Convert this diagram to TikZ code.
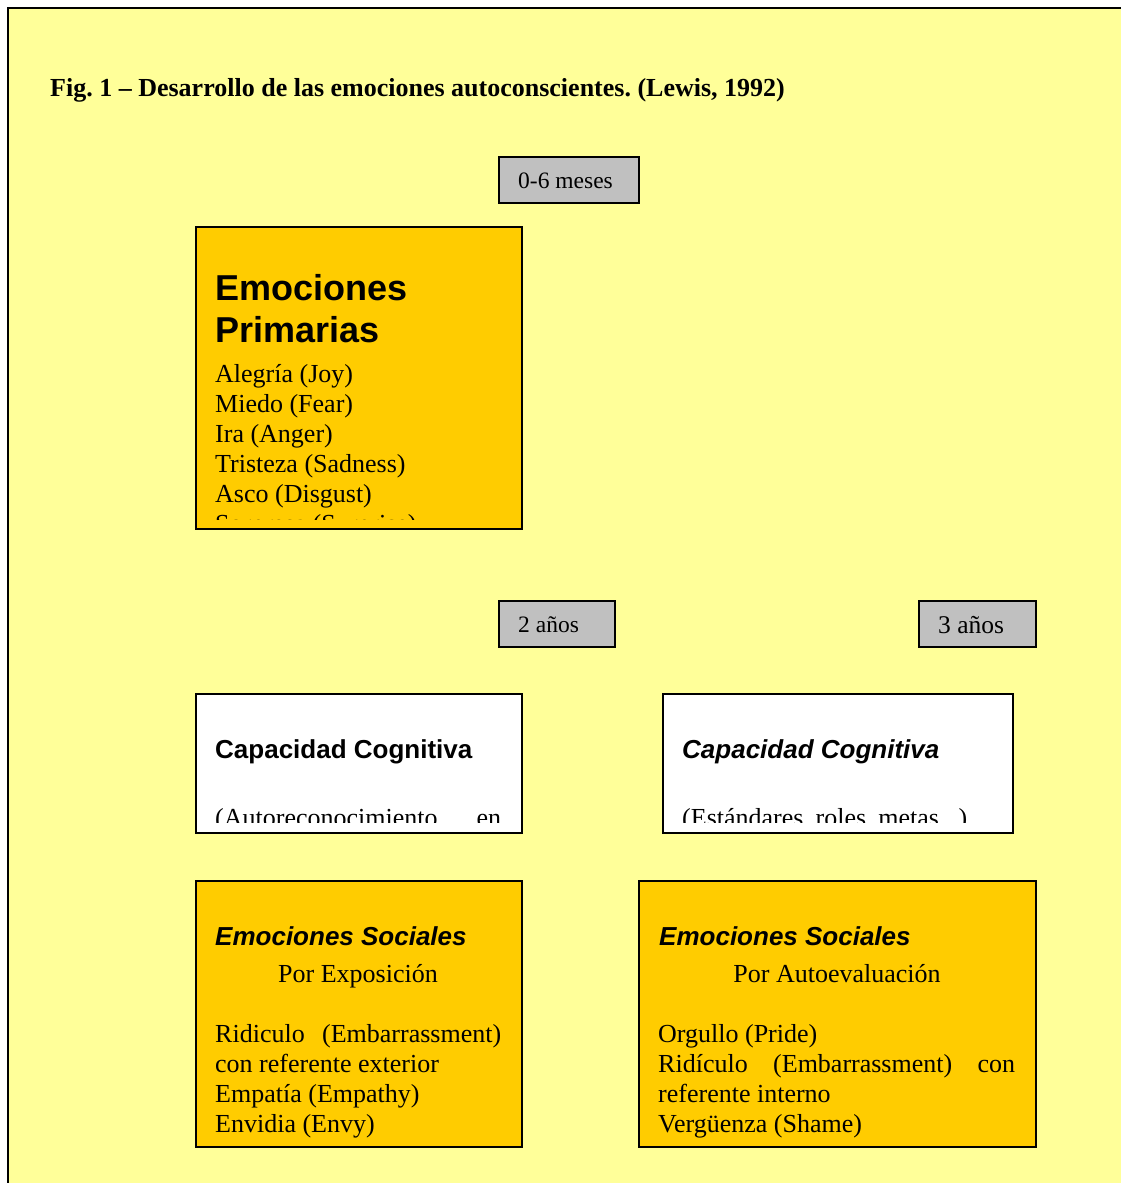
\documentclass[tikz,border=0pt]{standalone}
\usepackage{fontspec}
\setmainfont{Liberation Serif}
\newfontfamily\arialf{Liberation Sans}
\definecolor{bgyellow}{HTML}{FFFF99}
\definecolor{boxorange}{HTML}{FFCC00}
\definecolor{labelgray}{HTML}{C0C0C0}
\frenchspacing
\begin{document}
\begin{tikzpicture}[x=1pt,y=-1pt,
  boxstyle/.style={draw=black,line width=2pt,anchor=north west,inner sep=0pt},
  txt/.style={anchor=base west,inner sep=0pt,font=\fontsize{26}{30}\selectfont},
  head/.style={anchor=base west,inner sep=0pt,font=\arialf\bfseries\fontsize{26}{30}\selectfont},
  lbl/.style={anchor=base west,inner sep=0pt}]
\useasboundingbox (0,0) rectangle (1121,1183);
\clip (0,0) rectangle (1121,1183);
\fill[white] (0,0) rectangle (1121,1183);
\draw[fill=bgyellow,line width=2pt] (8,8) rectangle (1140,1200);

% title
\node[anchor=base west,inner sep=0pt,font=\bfseries\fontsize{26}{30}\selectfont] (title) at (50,96) {Fig. 1 – Desarrollo de las emociones autoconscientes. (Lewis, 1992)};

% age labels
\node[boxstyle,fill=labelgray,minimum width=140pt,minimum height=46pt] (age1) at (498,156) {};
\node[lbl,font=\fontsize{23.5}{27}\selectfont] (age1t) at (518,188) {0-6 meses};
\node[boxstyle,fill=labelgray,minimum width=116pt,minimum height=46pt] (age2) at (498,600) {};
\node[lbl,font=\fontsize{23.5}{27}\selectfont] (age2t) at (518,632) {2 años};
\node[boxstyle,fill=labelgray,minimum width=117pt,minimum height=46pt] (age3) at (918,600) {};
\node[lbl,font=\fontsize{25.5}{29}\selectfont] (age3t) at (938,633) {3 años};

% primary emotions
\node[boxstyle,fill=boxorange,minimum width=326pt,minimum height=302pt] (prim) at (195,226) {};
\begin{scope}
\clip (197,228) rectangle (519,519);
\node[head,font=\arialf\bfseries\fontsize{36}{42}\selectfont] (primh1) at (215,300) {Emociones};
\node[head,font=\arialf\bfseries\fontsize{36}{42}\selectfont] (primh2) at (215,342) {Primarias};
\node[txt] (p1) at (215,382) {Alegría (Joy)};
\node[txt] (p2) at (215,412) {Miedo (Fear)};
\node[txt] (p3) at (215,442) {Ira (Anger)};
\node[txt] (p4) at (215,472) {Tristeza (Sadness)};
\node[txt] (p5) at (215,502) {Asco (Disgust)};
\node[txt] (p6) at (215,532) {Sorpresa (Surprise)};
\end{scope}

% cognitive capacity
\node[boxstyle,fill=white,minimum width=326pt,minimum height=139pt] (cogL) at (195,693) {};
\begin{scope}
\clip (197,695) rectangle (519,822);
\node[head] (cogLh) at (215,758) {Capacidad Cognitiva};
\node[txt] (cogLt) at (215,826) {\hbox to 286pt{(Autoreconocimiento\hfill en}};
\end{scope}
\node[boxstyle,fill=white,minimum width=350pt,minimum height=139pt] (cogR) at (662,693) {};
\begin{scope}
\clip (664,695) rectangle (1010,822);
\node[head,font=\arialf\bfseries\itshape\fontsize{26}{30}\selectfont] (cogRh) at (682,758) {Capacidad Cognitiva};
\node[txt] (cogRt) at (682,826) {\hbox to 285pt{(Estándares,\hfill roles,\hfill metas...)}};
\end{scope}

% social emotions left
\node[boxstyle,fill=boxorange,minimum width=326pt,minimum height=266pt] (socL) at (195,880) {};
\node[head,font=\arialf\bfseries\itshape\fontsize{26}{30}\selectfont] (socLh) at (215,945) {Emociones Sociales};
\node[txt,anchor=base] (socLs) at (358,982) {Por Exposición};
\node[txt] (l1) at (215,1042) {\hbox to 286pt{Ridiculo\hfill(Embarrassment)}};
\node[txt] (l2) at (215,1072) {con referente exterior};
\node[txt] (l3) at (215,1102) {Empatía (Empathy)};
\node[txt] (l4) at (215,1132) {Envidia (Envy)};

% social emotions right
\node[boxstyle,fill=boxorange,minimum width=397pt,minimum height=266pt] (socR) at (638,880) {};
\node[head,font=\arialf\bfseries\itshape\fontsize{26}{30}\selectfont] (socRh) at (659,945) {Emociones Sociales};
\node[txt,anchor=base] (socRs) at (837,982) {Por Autoevaluación};
\node[txt] (r1) at (658,1042) {Orgullo (Pride)};
\node[txt] (r2) at (658,1072) {\hbox to 357pt{Ridículo\hfill(Embarrassment)\hfill con}};
\node[txt] (r3) at (658,1102) {referente interno};
\node[txt] (r4) at (658,1132) {Vergüenza (Shame)};
\end{tikzpicture}
\end{document}
